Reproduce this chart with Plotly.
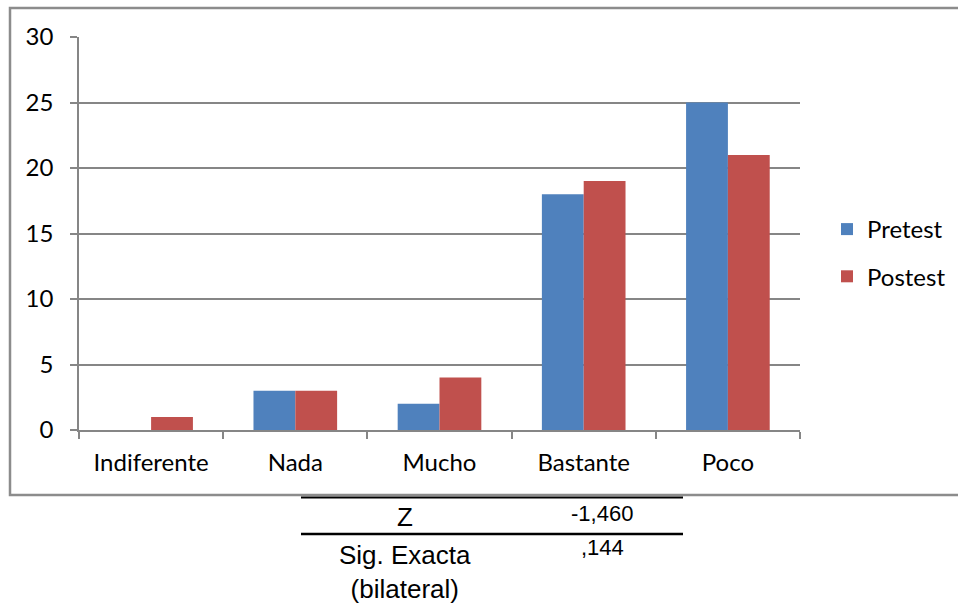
import plotly.graph_objects as go

# Response categories and counts per measurement
categories = ["Indiferente", "Nada", "Mucho", "Bastante", "Poco"]
pretest = [0, 3, 2, 18, 25]
postest = [1, 3, 4, 19, 21]
y_ticks = [0, 5, 10, 15, 20, 25, 30]

# Wilcoxon summary shown under the chart
stat_labels = ["Z", "Sig. Exacta<br>(bilateral)"]
stat_values = ["-1,460", ",144"]

W, H = 958, 608
GRID = "#868686"
CHART_FONT = "Lato, Open Sans, sans-serif"
TABLE_FONT = "Liberation Sans Narrow, Arial Narrow, Liberation Sans, sans-serif"


def px(x):
    return x / W


def py(y):
    return 1 - y / H


fig = go.Figure()
fig.add_trace(go.Bar(
    x=categories, y=pretest, name="Pretest",
    marker=dict(color="#4F81BD", line=dict(width=0)),
    legendgroup="a",
))
fig.add_trace(go.Bar(
    x=categories, y=postest, name="Postest",
    marker=dict(color="#C0504D", line=dict(width=0)),
    legendgroup="b",
))

fig.update_layout(
    width=W, height=H,
    margin=dict(l=0, r=0, t=0, b=0, autoexpand=False),
    paper_bgcolor="white",
    plot_bgcolor="white",
    barmode="group",
    bargap=0.42,
    bargroupgap=0,
    font=dict(family=CHART_FONT, size=24, color="black"),
    xaxis=dict(
        domain=[px(79), px(800)],
        type="category",
        tickson="boundaries",
        ticks="outside", ticklen=7, tickwidth=1.5, tickcolor=GRID,
        showline=True, linecolor=GRID, linewidth=1.5,
        showgrid=False,
        automargin=False,
        tickfont=dict(family=CHART_FONT, size=24),
        ticklabelstandoff=10,
    ),
    yaxis=dict(
        domain=[py(430), py(37)],
        range=[0, 30],
        tickvals=y_ticks,
        ticks="outside", ticklen=7, tickwidth=1.5, tickcolor=GRID,
        showline=True, linecolor=GRID, linewidth=1.5,
        showgrid=True, gridcolor=GRID, gridwidth=1.5,
        zeroline=False,
        automargin=False,
        tickfont=dict(family=CHART_FONT, size=24),
        ticklabelstandoff=12,
    ),
    legend=dict(
        x=px(827), y=py(207), xanchor="left", yanchor="top",
        font=dict(family=CHART_FONT, size=24),
        traceorder="grouped",
        tracegroupgap=13,
        itemwidth=30,
        bgcolor="rgba(0,0,0,0)",
    ),
    showlegend=True,
)

shapes = [
    # chart frame
    dict(type="rect", xref="paper", yref="paper",
         x0=px(10), x1=1.02, y0=py(495), y1=py(8),
         line=dict(color="#8C8C8C", width=2.5), layer="below"),
    # table rules
    dict(type="line", xref="paper", yref="paper",
         x0=px(301), x1=px(683), y0=py(497.5), y1=py(497.5),
         line=dict(color="black", width=2)),
    dict(type="line", xref="paper", yref="paper",
         x0=px(301), x1=px(683), y0=py(534), y1=py(534),
         line=dict(color="black", width=2.5)),
]
fig.update_layout(shapes=shapes)

annotations = [
    dict(text=stat_labels[0], x=px(405), y=py(517), xanchor="center", yanchor="middle",
         font=dict(family=TABLE_FONT, size=26)),
    dict(text=stat_labels[1], x=px(405), y=py(572), xanchor="center", yanchor="middle",
         font=dict(family=TABLE_FONT, size=26)),
    dict(text=stat_values[0], x=px(602), y=py(513), xanchor="center", yanchor="middle",
         font=dict(family=TABLE_FONT, size=22)),
    dict(text=stat_values[1], x=px(602), y=py(547), xanchor="center", yanchor="middle",
         font=dict(family=TABLE_FONT, size=22)),
]
for a in annotations:
    a.update(xref="paper", yref="paper", showarrow=False)
fig.update_layout(annotations=annotations)

fig.write_html("out.html")
